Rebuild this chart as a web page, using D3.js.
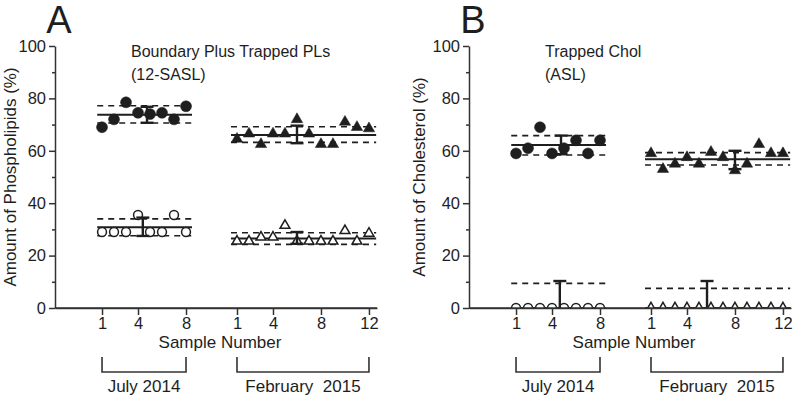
<!DOCTYPE html>
<html><head><meta charset="utf-8">
<script src="https://cdn.jsdelivr.net/npm/d3@7"></script>
<style>body{margin:0;background:#fff}svg{display:block}</style>
</head><body><svg id="chart" width="800" height="400"></svg>
<script>
// ---------- data ----------
const julySamples = [1,2,3,4,5,6,7,8];
const febSamples = [1,2,3,4,5,6,7,8,9,10,11,12];
const julyTickLabels = [1,4,8];
const febTickLabels = [1,4,8,12];
const yMajorTicks = [0,20,40,60,80,100];
const yMinorTicks = [10,30,50,70,90];
const groupLabels = ["July 2014", "February  2015"];

const plFilledJuly = [69,72,78.5,74.5,74,74.5,72,77];
const plFilledFeb  = [64.5,66.5,62.5,66.5,66.5,72,66.5,62.5,62.5,71,69,68.5];
const plOpenJuly   = [29,29,29,35.5,29,29,35.5,29];
const plOpenFeb    = [25.5,25.5,27,27,31.5,25.5,25.5,25.5,25.5,29.5,25.5,28.5];
const cholFilledJuly = [59,61,69,59,61,64,59,64];
const cholFilledFeb  = [59,53,55,57.5,55,59.5,57.5,52.5,55,62.5,59,59];
const cholOpenJuly   = [0,0,0,0,0,0,0,0];
const cholOpenFeb    = [0,0,0,0,0,0,0,0,0,0,0,0];

// summary lines: [mean, lower dashed, upper dashed]
const plFilledJulyStats = [73.8,70.6,77.2];
const plFilledFebStats  = [66.0,63.2,69.2];
const plOpenJulyStats   = [30.8,27.6,34.0];
const plOpenFebStats    = [26.5,24.3,28.7];
const cholFilledJulyStats = [62.2,58.4,65.8];
const cholFilledFebStats  = [56.8,54.6,59.3];
const cholOpenJulyStats   = [0,-9.4,9.4];
const cholOpenFebStats    = [0,-7.5,7.5];

// error bars: [low, high, sample position]
const plFilledJulyErr = [70.7,76.8,4.75];
const plFilledFebErr  = [62.9,69.6,6];
const plOpenJulyErr   = [27.5,34.5,4.4];
const plOpenFebErr    = [24.5,29.0,6];
const cholFilledJulyErr = [58.7,65.8,4.75];
const cholFilledFebErr  = [53.0,60.0,8];
const cholOpenJulyErr   = [-10.3,10.3,4.65];
const cholOpenFebErr    = [-10.3,10.3,5.67];

// ---------- layout ----------
const FONT = "'Liberation Sans', Arial, Helvetica, sans-serif";
const INK = "#1e1e1e";
const FEB_OFFSET = 11.25;
const pos = (group, s) => group === "july" ? s : s + FEB_OFFSET;
const lineExtent = { july: [0.6, 8.5], feb: [0.5, 12.6] };

const svg = d3.select("#chart");
const yScale = d3.scaleLinear().domain([0,100]).range([308,46]);
const xScale = d3.scaleLinear().domain([-2.92, 23.92]).range([55, 377]);

const panels = [
  { id: "A", offset: 0, titleX: 16, ytitle: "Amount of Phospholipids (%)",
    sub: ["Boundary Plus Trapped PLs", "(12-SASL)"],
    series: [
      { group: "july", vals: plFilledJuly, stats: plFilledJulyStats, err: plFilledJulyErr, type: "circle", filled: true },
      { group: "feb",  vals: plFilledFeb,  stats: plFilledFebStats,  err: plFilledFebErr,  type: "tri", filled: true },
      { group: "july", vals: plOpenJuly,   stats: plOpenJulyStats,   err: plOpenJulyErr,   type: "circle", filled: false },
      { group: "feb",  vals: plOpenFeb,    stats: plOpenFebStats,    err: plOpenFebErr,    type: "tri", filled: false }
    ] },
  { id: "B", offset: 414, titleX: 11, ytitle: "Amount of Cholesterol (%)",
    sub: ["Trapped Chol", "(ASL)"],
    series: [
      { group: "july", vals: cholFilledJuly, stats: cholFilledJulyStats, err: cholFilledJulyErr, type: "circle", filled: true },
      { group: "feb",  vals: cholFilledFeb,  stats: cholFilledFebStats,  err: cholFilledFebErr,  type: "tri", filled: true },
      { group: "july", vals: cholOpenJuly,   stats: cholOpenJulyStats,   err: cholOpenJulyErr,   type: "circle", filled: false },
      { group: "feb",  vals: cholOpenFeb,    stats: cholOpenFebStats,    err: cholOpenFebErr,    type: "tri", filled: false }
    ] }
];

const defs = svg.append("defs");

panels.forEach(p => {
  const g = svg.append("g").attr("transform", `translate(${p.offset},0)`)
    .style("font-family", FONT);

  defs.append("clipPath").attr("id", "clip" + p.id)
    .append("rect").attr("x", xScale.range()[0]).attr("y", 0)
    .attr("width", xScale.range()[1] - xScale.range()[0] + 20).attr("height", yScale(0));

  // panel letter
  g.append("text").attr("x", 59).attr("y", 33).attr("text-anchor", "middle")
    .attr("font-size", 38).attr("fill", INK).text(p.id);
  // subtitle
  p.sub.forEach((t, i) => g.append("text").attr("x", 131).attr("y", 57 + i * 23)
    .attr("font-size", 16).attr("fill", INK).text(t));

  // y axis
  const yAx = g.append("g").attr("transform", `translate(${xScale.range()[0]},0)`)
    .call(d3.axisLeft(yScale).tickValues(yMajorTicks).tickSize(6).tickSizeOuter(0).tickPadding(3));
  const yMin = g.append("g").attr("transform", `translate(${xScale.range()[0]},0)`)
    .call(d3.axisLeft(yScale).tickValues(yMinorTicks).tickSize(3).tickFormat(""));
  yMin.select(".domain").remove();

  // x axis
  const tickPos = julyTickLabels.map(s => pos("july", s)).concat(febTickLabels.map(s => pos("feb", s)));
  const tickLab = julyTickLabels.concat(febTickLabels);
  const xAx = g.append("g").attr("transform", `translate(0,${yScale(0)})`)
    .call(d3.axisBottom(xScale).tickValues(tickPos).tickFormat((d, i) => tickLab[i])
      .tickSize(7).tickSizeOuter(0).tickPadding(2));

  [yAx, yMin, xAx].forEach(a => {
    a.selectAll("path,line").attr("stroke", "#333").attr("stroke-width", 1.5);
    a.selectAll("text").attr("font-size", 16.5).attr("fill", INK).style("font-family", FONT);
  });

  // y title
  g.append("text").attr("transform", `translate(${p.titleX},${(yScale(0) + yScale(100)) / 2}) rotate(-90)`)
    .attr("text-anchor", "middle").attr("font-size", 17).attr("fill", INK).text(p.ytitle);

  // x title
  g.append("text").attr("x", 220).attr("y", 348).attr("text-anchor", "middle")
    .attr("font-size", 17).attr("fill", INK).text("Sample Number");

  // group brackets
  [["july", julySamples], ["feb", febSamples]].forEach(([grp, samples], i) => {
    const x0 = xScale(pos(grp, samples[0])), x1 = xScale(pos(grp, samples[samples.length - 1]));
    g.append("path").attr("d", `M${x0},357V372H${x1}V357`).attr("fill", "none")
      .attr("stroke", "#333").attr("stroke-width", 1.6);
    g.append("text").attr("x", (x0 + x1) / 2).attr("y", 392).attr("text-anchor", "middle")
      .attr("font-size", 17).attr("fill", INK).style("white-space", "pre").text(groupLabels[i]);
  });

  // plot contents
  const plot = g.append("g").attr("clip-path", `url(#clip${p.id})`);
  p.series.forEach(s => {
    const [a, b] = lineExtent[s.group];
    const xa = xScale(pos(s.group, a)), xb = xScale(pos(s.group, b));
    [s.stats[1], s.stats[2]].forEach(v => plot.append("line")
      .attr("x1", xa).attr("x2", xb).attr("y1", yScale(v)).attr("y2", yScale(v))
      .attr("stroke", INK).attr("stroke-width", 1.6).attr("stroke-dasharray", "6,5"));
    plot.append("line").attr("x1", xa).attr("x2", xb)
      .attr("y1", yScale(s.stats[0])).attr("y2", yScale(s.stats[0]))
      .attr("stroke", INK).attr("stroke-width", 2);
    const samples = s.group === "july" ? julySamples : febSamples;
    const sym = s.type === "circle"
      ? d3.symbol().type(d3.symbolCircle).size(s.filled ? 95 : 62)
      : d3.symbol().type(d3.symbolTriangle).size(s.filled ? 56 : 42);
    plot.selectAll(null).data(s.vals).join("path")
      .attr("d", sym)
      .attr("transform", (d, i) => `translate(${xScale(pos(s.group, samples[i]))},${yScale(d)})`)
      .attr("fill", s.filled ? INK : "#fff")
      .attr("stroke", INK).attr("stroke-width", s.filled ? 0.5 : 1.5);
    const ex = xScale(pos(s.group, s.err[2]));
    plot.append("line").attr("x1", ex).attr("x2", ex)
      .attr("y1", yScale(s.err[0])).attr("y2", yScale(s.err[1]))
      .attr("stroke", INK).attr("stroke-width", 2.4);
    s.err.slice(0, 2).forEach(v => plot.append("line")
      .attr("x1", ex - 6.5).attr("x2", ex + 6.5).attr("y1", yScale(v)).attr("y2", yScale(v))
      .attr("stroke", INK).attr("stroke-width", 2.4));
  });
  g.append("line").attr("x1", xScale.range()[0]).attr("x2", xScale.range()[1])
    .attr("y1", yScale(0)).attr("y2", yScale(0)).attr("stroke", "#333").attr("stroke-width", 1.5);
});
</script></body></html>
